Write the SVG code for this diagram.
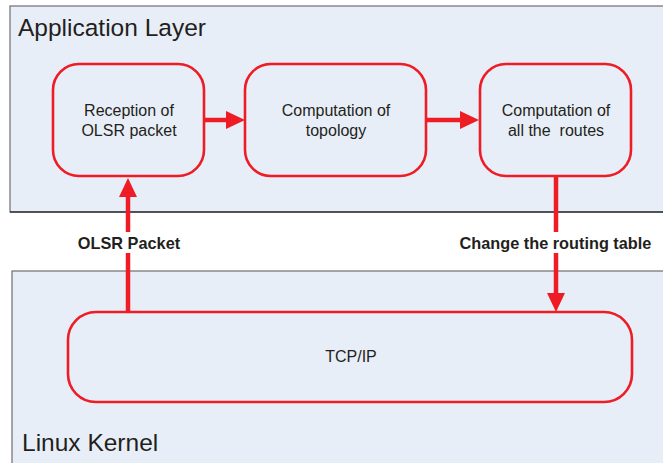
<svg xmlns="http://www.w3.org/2000/svg" width="663" height="463" viewBox="0 0 663 463">
<style>
.layer{fill:#E8EEF7;stroke:#6d6e71;stroke-width:1.2}
.node{fill:none;stroke:#EE1C25;stroke-width:2.6}
.t{font-family:"Liberation Sans",Arial,sans-serif;fill:#231F20}
.nt{font-size:16px;text-anchor:middle}
.lt{font-size:24.5px}
.cl{font-size:16.3px;font-weight:bold;text-anchor:middle}
.conn{stroke:#EE1C25;stroke-width:4.5;fill:none}
</style>
<defs>
<marker id="ah" viewBox="0 0 19 18" markerWidth="19" markerHeight="18" refX="1" refY="9" orient="auto" markerUnits="userSpaceOnUse">
<path d="M0,0 L19,9 L0,18 z" fill="#EE1C25"/>
</marker>
</defs>
<rect width="663" height="463" fill="#ffffff"/>
<g id="application-layer">
<rect class="layer" x="10" y="6" width="660" height="206"/>
<line x1="10" y1="212" x2="663" y2="212" stroke="#000" stroke-width="1.2"/>
<text class="t lt" x="18" y="36">Application Layer</text>
</g>
<g id="linux-kernel">
<rect class="layer" x="12" y="271" width="660" height="200" stroke="#000"/>
<text class="t lt" x="22" y="451">Linux Kernel</text>
</g>
<g id="reception">
<rect class="node" x="53" y="64" width="151" height="112" rx="26"/>
<text class="t nt" x="129" y="116">Reception of</text>
<text class="t nt" x="129" y="136">OLSR packet</text>
</g>
<g id="topology">
<rect class="node" x="245" y="64" width="181" height="112" rx="26"/>
<text class="t nt" x="336" y="116">Computation of</text>
<text class="t nt" x="336" y="136">topology</text>
</g>
<g id="routes">
<rect class="node" x="480" y="64" width="151" height="112" rx="26"/>
<text class="t nt" x="556" y="116">Computation of</text>
<text class="t nt" x="556" y="136" xml:space="preserve">all the  routes</text>
</g>
<g id="tcpip">
<rect class="node" x="68" y="312" width="564" height="90" rx="28"/>
<text class="t nt" x="351" y="362">TCP/IP</text>
</g>
<g id="connectors">
<line class="conn" x1="204" y1="120" x2="227" y2="120" marker-end="url(#ah)"/>
<line class="conn" x1="426" y1="120" x2="461" y2="120" marker-end="url(#ah)"/>
<line class="conn" x1="128" y1="313" x2="128" y2="196" marker-end="url(#ah)"/>
<line class="conn" x1="556" y1="175" x2="556" y2="294" marker-end="url(#ah)"/>
<rect x="76" y="232" width="106" height="21" fill="#fff"/>
<text class="t cl" x="129" y="249">OLSR Packet</text>
<rect x="456" y="232" width="199" height="21" fill="#fff"/>
<text class="t cl" x="555.5" y="249">Change the routing table</text>
</g>
</svg>
